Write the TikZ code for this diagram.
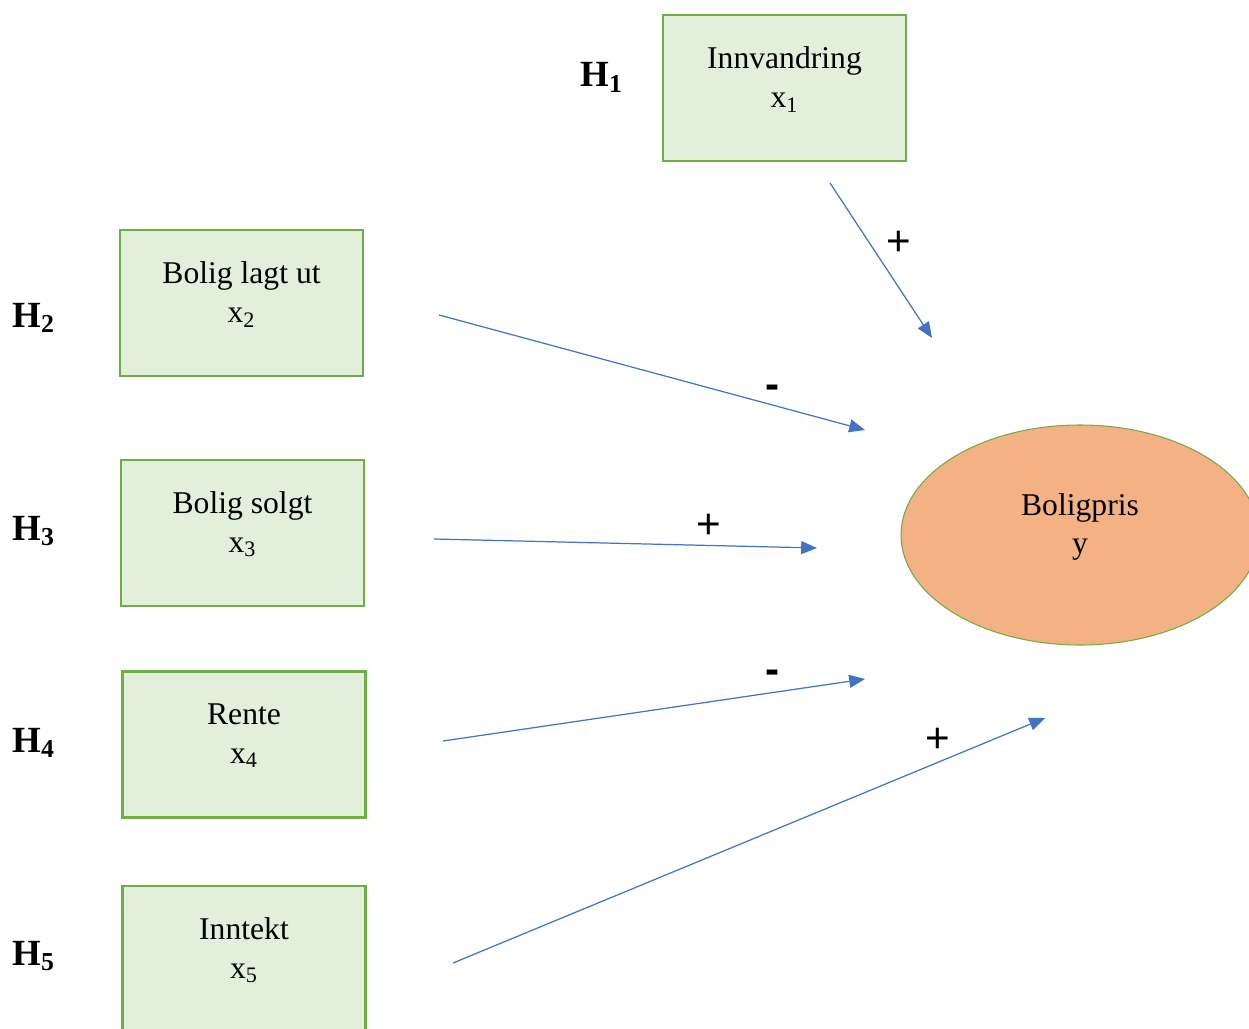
\documentclass[tikz,border=0pt]{standalone}
\usepackage{fontspec}
\setmainfont{Liberation Serif}
\newfontfamily\signfont{Liberation Sans}
\usetikzlibrary{arrows.meta,shapes.geometric}

\definecolor{boxfill}{HTML}{E2EFDA}
\definecolor{boxline}{HTML}{70AD47}
\definecolor{prisfill}{HTML}{F4B183}
\definecolor{pil}{HTML}{4472C4}

\def \boxWidth {4.86cm}
\def \boxHeight {2.92cm}
\def \textShift {0.17cm}

\tikzset{
  varbox/.style={draw=boxline, fill=boxfill, line width=1.4pt, minimum width=\boxWidth, minimum height=\boxHeight, inner sep=0pt},
  vartext/.style={align=center, font=\fontsize{18}{22}\selectfont, inner sep=0pt},
  hyp/.style={anchor=base west, inner sep=0pt, font=\fontsize{21}{26}\selectfont\bfseries},
  sign/.style={inner sep=0pt, font=\fontsize{24}{28}\selectfont\signfont},
  pilen/.style={draw=pil, line width=0.7pt, -{Triangle[length=9pt, width=7.4pt]}}
}

\begin{document}
\begin{tikzpicture}
         \useasboundingbox (0, 0) rectangle (24.98, -20.56);
         \clip (0, 0) rectangle (24.98, -20.56);

         \node[varbox] (innv) at (15.69, -1.76) {};
         \node[varbox] (lagt) at (4.83, -6.06) {};
         \node[varbox] (solgt) at (4.85, -10.66) {};
         \node[varbox] (rente) at (4.88, -14.89) {};
         \node[varbox] (inntekt) at (4.88, -19.18) {};
         \node[ellipse, draw=boxline, fill=prisfill, line width=0.6pt, minimum width=7.16cm, minimum height=4.4cm] (pris) at (21.6, -10.7) {};

         \node[vartext] (innvtxt) at ([yshift=\textShift] innv) {Innvandring\\x\textsubscript{1}};
         \node[vartext] (lagttxt) at ([yshift=\textShift] lagt) {Bolig lagt ut\\x\textsubscript{2}};
         \node[vartext] (solgttxt) at ([yshift=\textShift] solgt) {Bolig solgt\\x\textsubscript{3}};
         \node[vartext] (rentetxt) at ([yshift=\textShift] rente) {Rente\\x\textsubscript{4}};
         \node[vartext] (inntekttxt) at ([yshift=\textShift] inntekt) {Inntekt\\x\textsubscript{5}};
         \node[vartext] (pristxt) at ([yshift=0.16cm] pris) {Boligpris\\y};

         \node[hyp] (h1) at (11.6, -1.74) {H\textsubscript{1}};
         \node[hyp] (h2) at (0.24, -6.54) {H\textsubscript{2}};
         \node[hyp] (h3) at (0.24, -10.8) {H\textsubscript{3}};
         \node[hyp] (h4) at (0.24, -15.04) {H\textsubscript{4}};
         \node[hyp] (h5) at (0.24, -19.3) {H\textsubscript{5}};

         \coordinate (s1) at (16.6, -3.66);
         \coordinate (e1) at (18.64, -6.76);
         \coordinate (s2) at (8.78, -6.3);
         \coordinate (e2) at (17.3, -8.6);
         \coordinate (s3) at (8.68, -10.78);
         \coordinate (e3) at (16.34, -10.96);
         \coordinate (s4) at (8.86, -14.82);
         \coordinate (e4) at (17.3, -13.58);
         \coordinate (s5) at (9.06, -19.26);
         \coordinate (e5) at (20.9, -14.36);

         \draw[pilen] (s1) -- (e1);
         \draw[pilen] (s2) -- (e2);
         \draw[pilen] (s3) -- (e3);
         \draw[pilen] (s4) -- (e4);
         \draw[pilen] (s5) -- (e5);

         \node[sign] (p1) at (17.98, -4.86) {+};
         \node[sign] (p2) at (15.46, -7.84) {\textbf{-}};
         \node[sign] (p3) at (14.18, -10.52) {+};
         \node[sign] (p4) at (15.46, -13.54) {\textbf{-}};
         \node[sign] (p5) at (18.76, -14.8) {+};
      \end{tikzpicture}
\end{document}
